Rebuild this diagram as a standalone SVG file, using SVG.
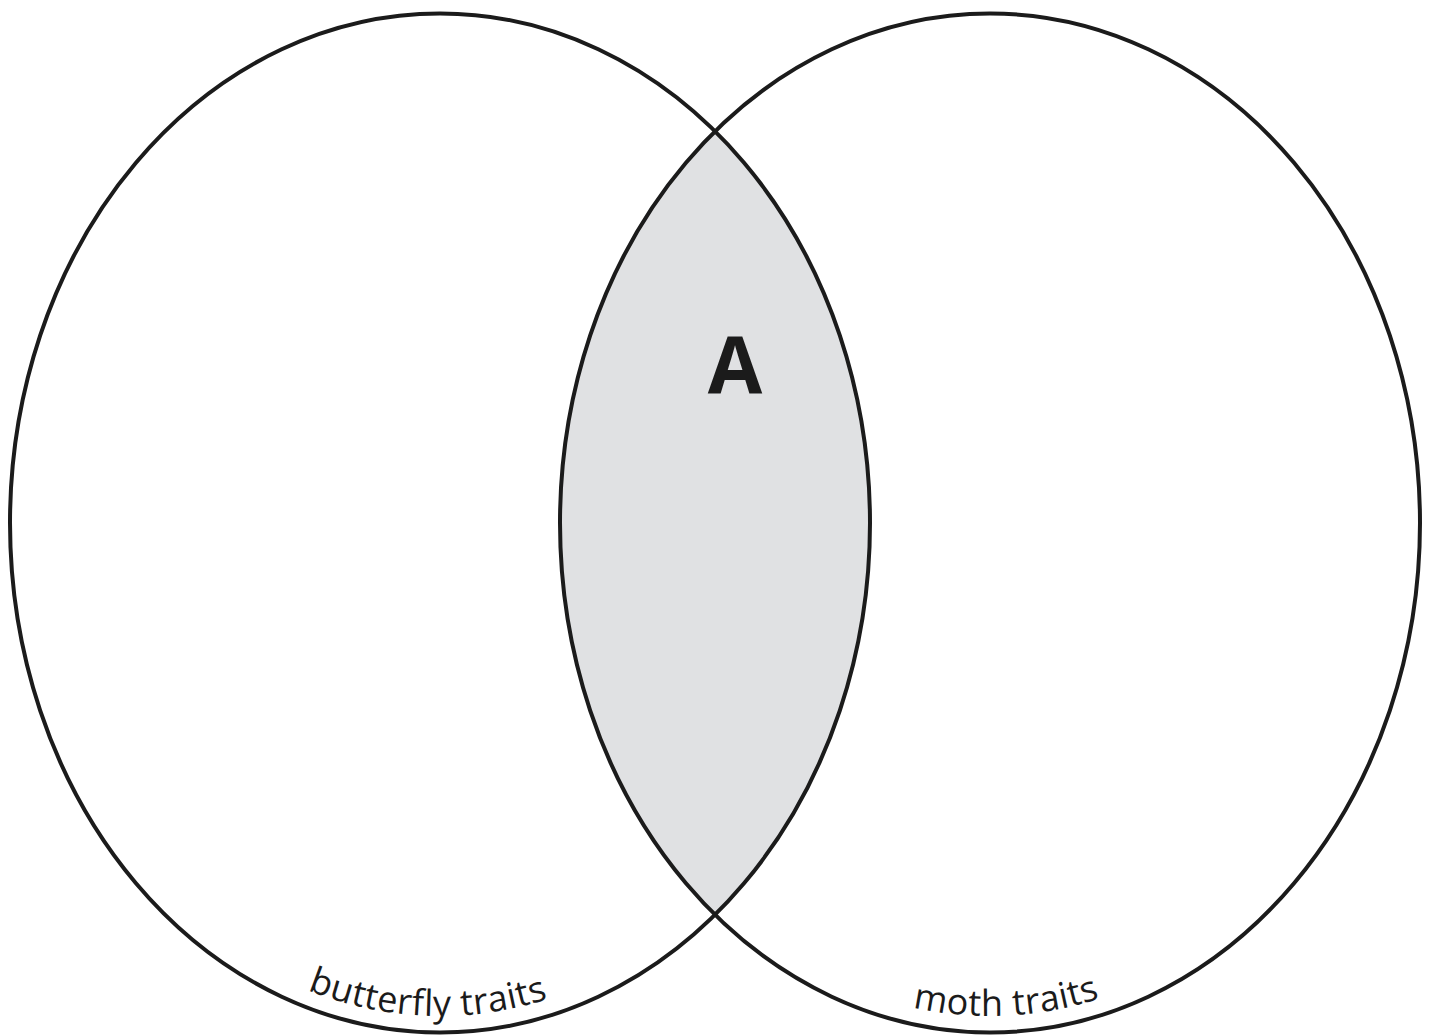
<svg xmlns="http://www.w3.org/2000/svg" width="1430" height="1036" viewBox="0 0 1430 1036">
<style>
.outline{fill:none;stroke:#1b1b1b;stroke-width:4}
.lbl{font-family:"Open Sans","DejaVu Sans",sans-serif;font-size:36px;letter-spacing:0.4px;fill:#1b1b1b}
.big{font-family:"Open Sans","DejaVu Sans",sans-serif;font-size:79px;font-weight:bold;fill:#1b1b1b}
</style>
<defs>
<path id="pathL" d="M25,523 A415,493 0 0,0 855,523"/>
<path id="pathR" d="M575,523 A415,493 0 0,0 1405,523"/>
</defs>
<rect width="1430" height="1036" fill="#ffffff"/>
<g id="overlap">
<path d="M715,131.3 A430,509.5 0 0,1 715,914.7 A430,509.5 0 0,1 715,131.3 Z" fill="#e0e1e3"/>
</g>
<g id="butterfly">
<ellipse class="outline" cx="440" cy="523" rx="430" ry="509.5"/>
<text class="lbl" text-anchor="middle"><textPath href="#pathL" startOffset="49.1%">butterfly traits</textPath></text>
</g>
<g id="moth">
<ellipse class="outline" cx="990" cy="523" rx="430" ry="509.5"/>
<text class="lbl" text-anchor="middle"><textPath href="#pathR" startOffset="51.2%">moth traits</textPath></text>
</g>
<g id="labelA">
<text class="big" x="735" y="393" text-anchor="middle">A</text>
</g>
<g id="connectors"/>
</svg>
